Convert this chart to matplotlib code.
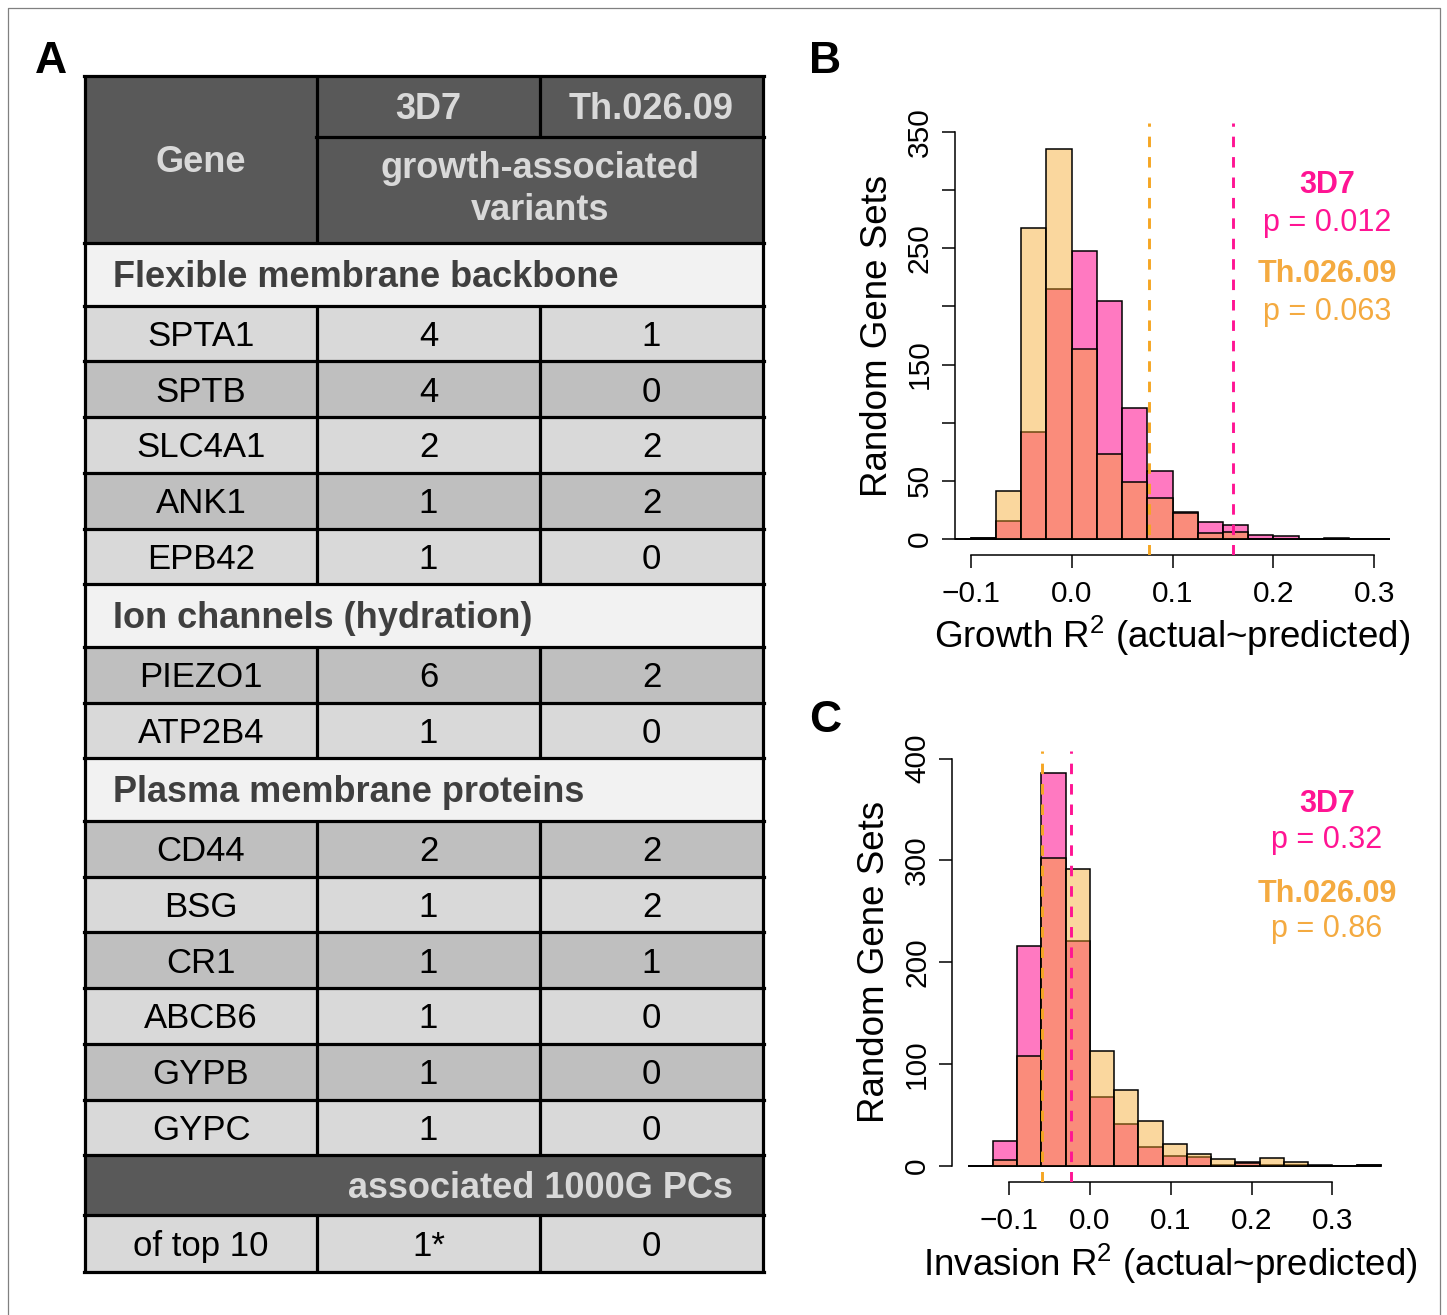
import numpy as np
import matplotlib
matplotlib.use("Agg")
import matplotlib.pyplot as plt
from matplotlib.patches import Rectangle

plt.rcParams['font.family'] = ['Liberation Sans', 'DejaVu Sans']
plt.rcParams['mathtext.fontset'] = 'custom'
plt.rcParams['mathtext.rm'] = 'Liberation Sans'
plt.rcParams['mathtext.it'] = 'Liberation Sans:italic'
plt.rcParams['mathtext.bf'] = 'Liberation Sans:bold'

# ---------------- Table data (panel A) ----------------
col_headers = ["Gene", "3D7", "Th.026.09"]
subheader_lines = ["growth-associated", "variants"]
section_names = ["Flexible membrane backbone", "Ion channels (hydration)", "Plasma membrane proteins"]
genes_flex = ["SPTA1", "SPTB", "SLC4A1", "ANK1", "EPB42"]
v3d7_flex = ["4", "4", "2", "1", "1"]
vth_flex = ["1", "0", "2", "2", "0"]
genes_ion = ["PIEZO1", "ATP2B4"]
v3d7_ion = ["6", "1"]
vth_ion = ["2", "0"]
genes_pm = ["CD44", "BSG", "CR1", "ABCB6", "GYPB", "GYPC"]
v3d7_pm = ["2", "1", "1", "1", "1", "1"]
vth_pm = ["2", "2", "1", "0", "0", "0"]
pc_header = "associated 1000G PCs"
pc_row = ["of top 10", "1*", "0"]

# ---------------- Histogram data (panels B, C) ----------------
growth_edges = np.round(np.arange(-0.125, 0.3251, 0.025), 3)
growth_3d7 = [0, 1, 15, 92, 215, 248, 205, 113, 58, 23, 14, 12, 3, 2, 0, 0, 0, 0]
growth_th = [0, 1, 41, 268, 336, 163, 73, 49, 35, 22, 5, 6, 0, 0, 0, 1, 0, 0]
growth_obs = {"3D7": 0.1604, "Th.026.09": 0.0766}
growth_p = {"3D7": "0.012", "Th.026.09": "0.063"}

invasion_edges = np.round(np.arange(-0.15, 0.3601, 0.03), 3)
invasion_3d7 = [0, 25, 216, 386, 221, 68, 41, 19, 10, 9, 1, 4, 1, 1, 0, 0, 1]
invasion_th = [0, 6, 108, 302, 292, 113, 75, 44, 22, 12, 7, 3, 8, 4, 1, 0, 1]
invasion_obs = {"3D7": -0.0235, "Th.026.09": -0.0586}
invasion_p = {"3D7": "0.32", "Th.026.09": "0.86"}

# ---------------- Styling ----------------
W, H = 1447, 1315
PINK = '#FF1493'
ORANGE = '#F5A623'
ORANGE_TXT = '#F4AA40'
pink_fill = (1.0, 0.078, 0.576, 0.57)
orange_fill = (0.961, 0.651, 0.137, 0.44)
HDR_BG = '#595959'
HDR_TXT = '#d9d9d9'
SEC_BG = '#f2f2f2'
SEC_TXT = '#3f3f3f'
ROW_LIGHT = '#d9d9d9'
ROW_DARK = '#bfbfbf'

fig = plt.figure(figsize=(W / 100, H / 100), dpi=100)
fig.patch.set_facecolor('white')

# overlay axes in pixel coordinates
ax0 = fig.add_axes([0, 0, 1, 1])
ax0.set_xlim(0, W)
ax0.set_ylim(H, 0)
ax0.axis('off')

# figure border
ax0.plot([7.5, 7.5, 1439.5, 1439.5], [H, 7.5, 7.5, H], color='#808080', lw=0.9)

# panel letters
for letter, (x, y) in {"A": (51, 73), "B": (825, 73), "C": (825, 732)}.items():
    ax0.text(x, y, letter, fontsize=32, fontweight='bold', ha='center', va='baseline', color='black')

# ---------------- Table drawing ----------------
cx = [85, 317, 540, 763]
col_centers = [(cx[i] + cx[i + 1]) / 2 for i in range(3)]
hdr_top, hdr_split, hdr_bot = 76, 137, 243
sec_h, gene_h, pc_h, last_h = 62.5, 55.75, 60, 57
body_fs, hdr_fs, sec_fs = 25, 26, 26
px_per_pt = 100 / 72.0
cap = 0.716


def baseline_for(yc, fs):
    return yc + cap * fs * px_per_pt / 2


def cell(x0, x1, y0, y1, color):
    ax0.add_patch(Rectangle((x0, y0), x1 - x0, y1 - y0, facecolor=color, edgecolor='none', zorder=1))


LW = 2.3
hlines = []
vlines = []

# header
cell(cx[0], cx[3], hdr_top, hdr_bot, HDR_BG)
ax0.text(col_centers[0], baseline_for((hdr_top + hdr_bot) / 2, hdr_fs), col_headers[0], fontsize=hdr_fs,
         fontweight='bold', color=HDR_TXT, ha='center', va='baseline', zorder=3)
for i in (1, 2):
    ax0.text(col_centers[i], baseline_for((hdr_top + hdr_split) / 2, hdr_fs), col_headers[i], fontsize=hdr_fs,
             fontweight='bold', color=HDR_TXT, ha='center', va='baseline', zorder=3)
for k, line in enumerate(subheader_lines):
    ax0.text(cx[2], 178 + 42 * k, line, fontsize=hdr_fs, fontweight='bold', color=HDR_TXT,
             ha='center', va='baseline', zorder=3)
hlines.append((hdr_split, cx[1], cx[3]))
vlines.append((cx[1], hdr_top, hdr_bot))
vlines.append((cx[2], hdr_top, hdr_split))

y = hdr_bot
row_index = 0
groups = [(section_names[0], genes_flex, v3d7_flex, vth_flex),
          (section_names[1], genes_ion, v3d7_ion, vth_ion),
          (section_names[2], genes_pm, v3d7_pm, vth_pm)]
for sname, genes, a_vals, b_vals in groups:
    hlines.append((y, cx[0], cx[3]))
    cell(cx[0], cx[3], y, y + sec_h, SEC_BG)
    ax0.text(113, baseline_for(y + sec_h / 2, sec_fs), sname, fontsize=sec_fs, fontweight='bold',
             color=SEC_TXT, ha='left', va='baseline', zorder=3)
    y += sec_h
    for g, a, b in zip(genes, a_vals, b_vals):
        hlines.append((y, cx[0], cx[3]))
        color = ROW_LIGHT if row_index % 2 == 0 else ROW_DARK
        cell(cx[0], cx[3], y, y + gene_h, color)
        for i, t in enumerate([g, a, b]):
            ax0.text(col_centers[i], baseline_for(y + gene_h / 2, body_fs), t, fontsize=body_fs,
                     color='black', ha='center', va='baseline', zorder=3)
        vlines.append((cx[1], y, y + gene_h))
        vlines.append((cx[2], y, y + gene_h))
        y += gene_h
        row_index += 1
    if sname == section_names[0]:
        row_index = 1  # PIEZO1 row is dark
    elif sname == section_names[1]:
        row_index = 1  # CD44 row is dark

# PC header
hlines.append((y, cx[0], cx[3]))
cell(cx[0], cx[3], y, y + pc_h, HDR_BG)
ax0.text(cx[2], baseline_for(y + pc_h / 2, hdr_fs), pc_header, fontsize=hdr_fs, fontweight='bold',
         color=HDR_TXT, ha='center', va='baseline', zorder=3)
y += pc_h
hlines.append((y, cx[0], cx[3]))
cell(cx[0], cx[3], y, y + last_h, ROW_LIGHT)
for i, t in enumerate(pc_row):
    ax0.text(col_centers[i], baseline_for(y + last_h / 2, body_fs), t, fontsize=body_fs,
             color='black', ha='center', va='baseline', zorder=3)
vlines.append((cx[1], y, y + last_h))
vlines.append((cx[2], y, y + last_h))
y += last_h
hlines.append((y, cx[0], cx[3]))
hlines.append((hdr_top, cx[0], cx[3]))
vlines.append((cx[0], hdr_top, y))
vlines.append((cx[3], hdr_top, y))

for yy, x0, x1 in hlines:
    ax0.plot([x0 - 1, x1 + 1], [yy, yy], color='black', lw=LW, zorder=4, solid_capstyle='projecting')
for xx, y0, y1 in vlines:
    ax0.plot([xx, xx], [y0, y1], color='black', lw=LW, zorder=4, solid_capstyle='butt')


# ---------------- Histograms ----------------
def to_fig(x0, x1, ytop, ybot):
    return [x0 / W, 1 - ybot / H, (x1 - x0) / W, (ybot - ytop) / H]


def hist_panel(rect, edges, c3d7, cth, obs, pvals, xlim, ylim, yticks, ylabels, xlabel, xlab_pos,
               ylab_pos, ann_x, ann_y):
    ax = fig.add_axes(to_fig(*rect))
    ax.set_facecolor('none')
    widths = np.diff(edges)
    ax.hlines(0, edges[0], edges[-1], color='black', lw=1.1, zorder=1)
    ax.bar(edges[:-1], c3d7, width=widths, align='edge', color=pink_fill, edgecolor='black',
           linewidth=1.1, zorder=2)
    ax.bar(edges[:-1], cth, width=widths, align='edge', color=orange_fill, edgecolor='black',
           linewidth=1.1, zorder=3)
    ax.axvline(obs["Th.026.09"], color=ORANGE, lw=2.1, linestyle=(0, (3.6, 3.4)), zorder=4)
    ax.axvline(obs["3D7"], color=PINK, lw=2.1, linestyle=(0, (3.6, 3.4)), zorder=4)
    ax.set_xlim(*xlim)
    ax.set_ylim(*ylim)
    for s in ('top', 'right'):
        ax.spines[s].set_visible(False)
    ax.spines['left'].set_bounds(yticks[0], yticks[-1])
    ax.spines['bottom'].set_bounds(-0.1, 0.3)
    for s in ('left', 'bottom'):
        ax.spines[s].set_linewidth(1.1)
    ax.set_xticks([-0.1, 0.0, 0.1, 0.2, 0.3])
    ax.set_xticklabels(["\u22120.1", "0.0", "0.1", "0.2", "0.3"])
    ax.set_yticks(yticks)
    ax.set_yticklabels(ylabels)
    ax.tick_params(axis='both', direction='out', length=9.1, width=1.1, labelsize=21.5)
    ax.tick_params(axis='x', pad=9.0)
    ax.tick_params(axis='y', pad=6.0, labelrotation=90)
    for lab in ax.get_yticklabels():
        lab.set_va('center')
    fig.text(xlab_pos[0] / W, 1 - xlab_pos[1] / H, xlabel, fontsize=26.5, ha='center', va='baseline')
    fig.text(ylab_pos[0] / W, 1 - ylab_pos[1] / H, "Random Gene Sets", fontsize=26.5, ha='center',
             va='baseline', rotation=90, rotation_mode='anchor')
    texts = [("3D7", PINK, 'bold'), ("p = " + pvals["3D7"], PINK, 'normal'),
             ("Th.026.09", ORANGE_TXT, 'bold'), ("p = " + pvals["Th.026.09"], ORANGE_TXT, 'normal')]
    for (t, c, wgt), yy in zip(texts, ann_y):
        fig.text(ann_x / W, 1 - yy / H, t, fontsize=22, color=c, fontweight=wgt, ha='center', va='baseline')
    return ax


hist_panel((954.6, 1390.4, 123, 555), growth_edges, growth_3d7, growth_th, growth_obs, growth_p,
           (-0.116, 0.316), (-14, 358), [0, 50, 100, 150, 200, 250, 300, 350],
           ["0", "50", "", "150", "", "250", "", "350"],
           "Growth R$^2$ (actual~predicted)", (1172, 648), (887, 336), 1327, [193, 231, 282, 320])

hist_panel((952, 1397.5, 751, 1182.3), invasion_edges, invasion_3d7, invasion_th, invasion_obs, invasion_p,
           (-0.1704, 0.3804), (-16, 407.5), [0, 100, 200, 300, 400],
           ["0", "100", "200", "300", "400"],
           "Invasion R$^2$ (actual~predicted)", (1170, 1276), (884, 962), 1327, [812, 848, 902, 937])

fig.savefig("out.png", dpi=100, facecolor='white')
